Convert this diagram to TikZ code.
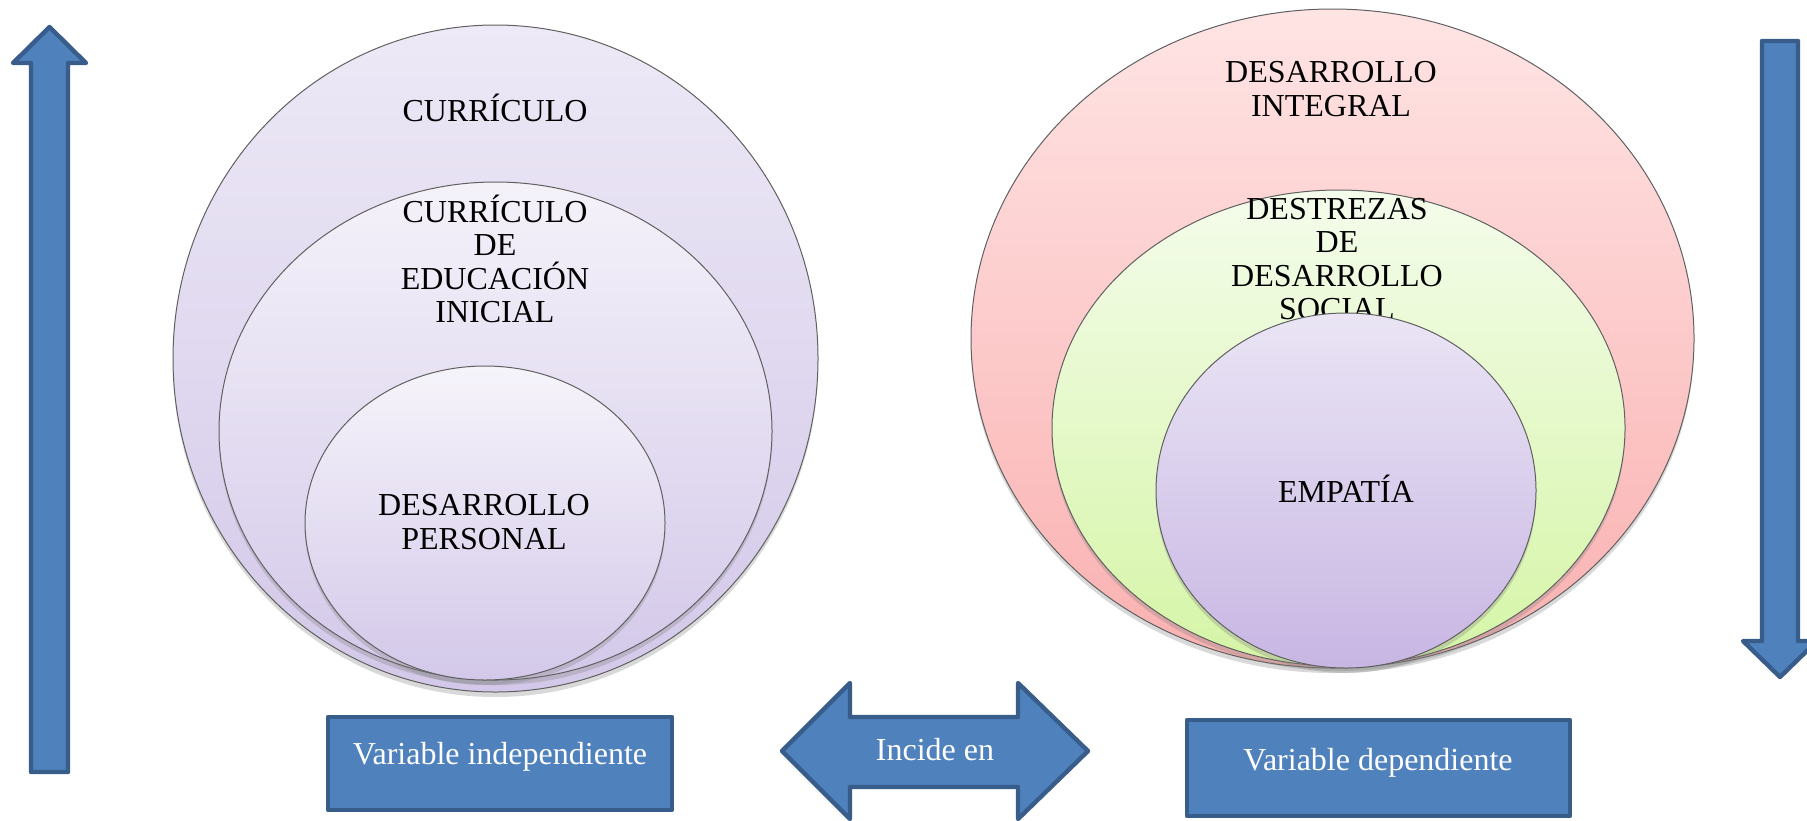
\documentclass[tikz,border=0pt]{standalone}
\usepackage{fontspec}
\setmainfont{Liberation Serif}
\usetikzlibrary{shapes.geometric,shadows}
\definecolor{azulrelleno}{HTML}{4F81BD}
\definecolor{azulborde}{HTML}{385D8A}
\definecolor{lilaA}{HTML}{EDE9F6}
\definecolor{lilaB}{HTML}{D3C8E9}
\definecolor{rosaA}{HTML}{FFE4E4}
\definecolor{rosaB}{HTML}{FAB0B0}
\definecolor{verdeA}{HTML}{F4FCEB}
\definecolor{verdeB}{HTML}{D5F5A6}
\definecolor{moradoA}{HTML}{EAE5F5}
\definecolor{moradoB}{HTML}{C8B6E3}
\begin{document}
\begin{tikzpicture}[x=0.5pt,y=-0.5pt,line join=round]
	\tikzset{
		anillo/.style={ellipse,draw=gray!75!black,line width=.5pt,inner sep=0pt,
			drop shadow={shadow xshift=0pt,shadow yshift=-2.5pt,opacity=.3}},
		rotulo/.style={align=center,font=\fontsize{16}{16.7}\selectfont,inner sep=0pt},
		blanco/.style={rotulo,text=white},
		bloque/.style={draw=azulborde,fill=azulrelleno,line width=2.2pt},
		caja/.style={bloque,rectangle,inner sep=0pt}
	}
	\useasboundingbox (0,0) rectangle (1807,820);
	
	%------------flechas laterales
	\draw[bloque] (31,772) -- (31,63) -- (13,63) -- (49.5,27) -- (86,63) -- (68,63) -- (68,772) -- cycle;
	\draw[bloque] (1762,41) -- (1798,41) -- (1798,641) -- (1817,641) -- (1780,677) -- (1743,641) -- (1762,641) -- cycle;
	
	%------------circulos izquierda
	\node[anillo,top color=lilaA,bottom color=lilaB,minimum width=322.5pt,minimum height=333.5pt] (curriculo) at (495.5,358.5) {};
	\node[rotulo] (curriculoT) at (495,108) {CURRÍCULO};
	\node[anillo,top color=lilaA!60!white,bottom color=lilaB,minimum width=276.5pt,minimum height=249pt] (inicial) at (495.5,431) {};
	\node[rotulo] (inicialT) at (495,259) {CURRÍCULO\\DE\\EDUCACIÓN\\INICIAL};
	\node[anillo,top color=lilaA!50!white,bottom color=lilaB,minimum width=180pt,minimum height=157pt] (personal) at (485,523) {};
	\node[rotulo] (personalT) at (484,522) {DESARROLLO\\PERSONAL};
	
	%------------circulos derecha
	\node[anillo,top color=rosaA,bottom color=rosaB,minimum width=361.5pt,minimum height=329.5pt] (integral) at (1332.5,338.5) {};
	\node[rotulo] (integralT) at (1331,89) {DESARROLLO\\INTEGRAL};
	\node[anillo,top color=verdeA,bottom color=verdeB,minimum width=286.5pt,minimum height=238pt] (destrezas) at (1338.5,428) {};
	\node[rotulo] (destrezasT) at (1337,259) {DESTREZAS\\DE\\DESARROLLO\\SOCIAL};
	\node[anillo,top color=moradoA,bottom color=moradoB,minimum width=190pt,minimum height=177.5pt] (empatia) at (1346,490.5) {};
	\node[rotulo] (empatiaT) at (1346,489) {EMPATÍA};
	
	%------------cajas y flecha doble
	\node[caja,minimum width=172pt,minimum height=46.5pt] (indep) at (500,763.5) {};
	\node[blanco] (indepT) at (500,757) {Variable independiente};
	\node[caja,minimum width=191.5pt,minimum height=48pt] (dep) at (1378.5,768) {};
	\node[blanco] (depT) at (1378,763) {Variable dependiente};
	\draw[bloque] (782,751) -- (850,683) -- (850,717) -- (1018,717) -- (1018,683) -- (1088,751)
		-- (1018,819) -- (1018,787) -- (850,787) -- (850,819) -- cycle;
	\node[blanco] (incide) at (935,750) {Incide en};
\end{tikzpicture}
\end{document}
